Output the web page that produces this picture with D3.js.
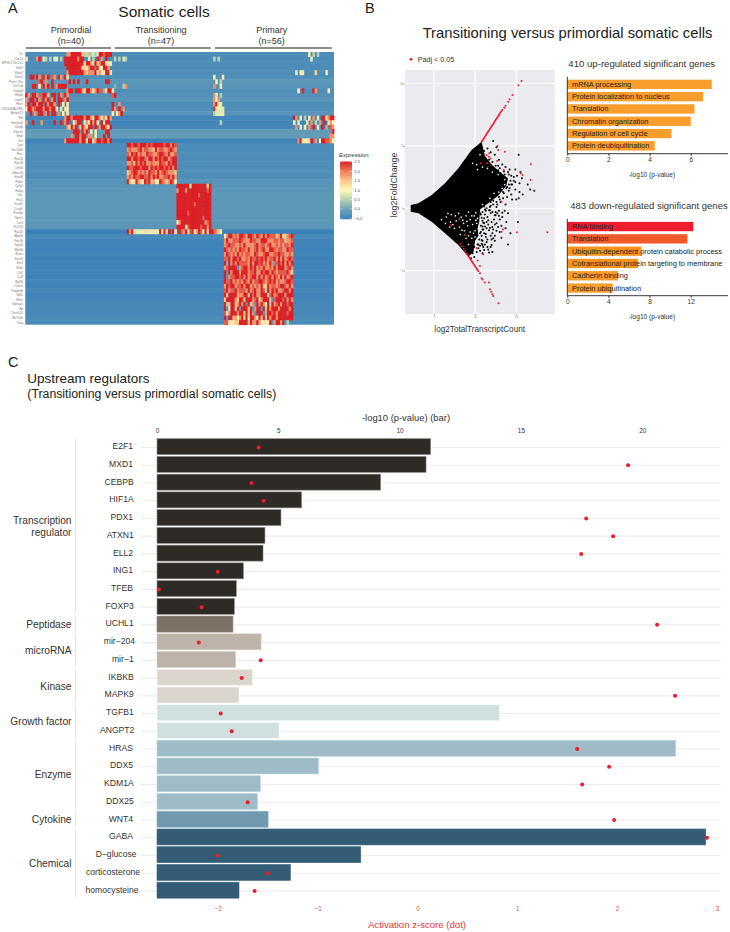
<!DOCTYPE html>
<html><head><meta charset="utf-8">
<script src="https://cdnjs.cloudflare.com/ajax/libs/d3/7.8.5/d3.min.js"></script>
<style>html,body{margin:0;padding:0;background:#fff}svg{display:block}text{font-family:"Liberation Sans",Arial,sans-serif}</style>
</head><body><svg id="c" width="730" height="932"></svg>
<script>
// ---------- Panel A ----------
const heatGroups=[{name:"Primordial",n:40},{name:"Transitioning",n:47},{name:"Primary",n:56}];
const heatGenes=["Ytc","Cdc14","MPV6-176c1/c1","Dlef1","Wwp2","Sass3","Pum1 (9)x","Gin Ddi","Golga3","Hmdn","Lonrf1","Plars","2410040A07Rik","Arhgef17","Rfk","Hacyad1","Cirebp","Klea1tr","Egin","Gct","Dgrt","Sec24d2","Peru","Rps16","Rps2b","Dnel3","Nbea7b","Hspa8","Prdx1","Cyfa2","Ratby","Utrc","Hist1","Sca81","Ccnb1","Per4tlo","Npm1","Tnc3","Pc1l13","Rps10","Rbp1b","Kmt2h","Syne2","Mpr9b","Ralus","Serin1","Enr3","Exd5","Cd7","Ccl3","Rpl36","Celsr1","Tmem4b","Sfbl1","Mthu","Gprrap1","Art","Chst4r10","Mir7k1b","Dap"];
const heatBase=[-.3,-.3,-.3,-.3,-.3,-.28,-.15,-.2,-.28,-.25,-.18,-.3,-.28,-.18,-.42,-.42,-.38,-.08,-.08,-.45,-.32,-.32,-.28,-.3,-.28,-.3,-.28,-.3,-.22,-.18,-.16,-.14,-.16,-.14,-.16,-.14,-.16,-.14,-.16,-.5,-.36,-.42,-.44,-.46,-.42,-.46,-.44,-.44,-.44,-.46,-.42,-.44,-.38,-.44,-.4,-.36,-.38,-.38,-.32,-.34];
// [row, first column, cell digits 0..9 spanning -0.5..2.5; "." keeps the row's base value]
const heatSegments=[
[0,19,"779999963633434998999"],
[0,131,"5.3.3"],
[1,0,"5....79.43.3.44.3.999999799..4.3.9.7.9.."],[1,41,"3.3.43"],[1,87,"3.3"],[1,132,"4"],
[2,18,"9999999995997596799554"],
[3,19,"99999996647998954997"],
[4,19,"799999997677795754995"],[4,125,"4.55.....6....4"],
[5,0,"..99.97.979.87.97.95"],[5,87,"5...5"],
[6,0,"......89.7..9.......9.9.9...9........99."],[6,87,".5.3"],
[7,0,"...99.5.979.9.79999."],[7,41,"2...37"],[7,87,"7..5"],
[8,19,"799.999759975798.75994"],[8,126,"5.9....97.....5"],
[9,0,"97.997.8996.99.97.97"],[9,40,"89"],[9,87,"75.3"],
[10,0,"7.99.97.979.79.99.79"],[10,87,"757"],
[11,0,"79.99799.97997.9.5.5"],[11,40,"9..7"],[11,87,"7945"],
[12,0,"599789997997995.4.55"],[12,40,"97.9.7"],[12,87,"95444"],
[13,0,"..9.7.99.79.99.7.5.5"],[13,40,"5.579"],[13,87,"34444"],
[14,18,"7997999997997499747597"],[14,124,"97.5.3.5.7.4.9957997"],
[15,0,"7..9...7.....9..9.79..5799.4759795.9599."],[15,90,"3"],[15,124,"5.4...4.7.3.7.9.475"],
[16,19,"75979.697599.9.799759"],[16,125,"7.4.5.7.9.4.9.7.875"],
[17,20,"..999.979.4.4....99."],[17,139,"...9"],
[18,20,".7.99799.77.4...9.9."],[18,141,"77"],
[19,18,"7999999799599479989979"],[19,124,"..7954559.7.5998875"],
// block: transitioning, first group
[20,47,"99899899989899999899798"],[21,47,"78777897887769788778987"],[22,47,"87989787798877899879778"],
[23,47,"99799899879979898997899"],[24,47,"77869798977877798879899"],[25,47,"98899989997989899898979"],
[26,47,"67899787879887978987776"],[27,47,"78798899889798977889797"],[28,47,"96459765989675498767985"],
// block: transitioning, second group
[29,70,"9999995999999959"],[30,70,"7999799999999989"],[31,70,"9999999999899999"],[32,70,"9999999999999999"],
[33,70,"9999999989999999"],[34,70,"9999999999999999"],[35,70,"9999989999999999"],[36,70,"9999999999998999"],
[37,70,"5799999999999789"],[38,70,"9999589999989979"],
[39,47,"97954455445544595959.95.98795895798594998765"],
// block: primary
[40,92,"47997879987998798797988867956789"],
[41,92,"79778889877798877999777887886778"],
[42,92,"78988778797777897887897787878879"],
[43,92,"98787879887977897897799878877988"],
[44,92,"79878797878877987789977889887787"],
[45,92,"88979989778798898989788979797898"],
[46,92,"92979798888797998978797189897979"],
[47,92,"78999917899798978797787979997897"],
[48,92,"91979997999788977989979878888976"],
[49,92,"91788998979789979797897987979789"],
[50,92,"98897878798797889987898978778998"],
[51,92,"79899788979978787966978878998797"],
[52,92,"89788978887978977983979897789979"],
[53,92,"96999977799398977999389789997999"],
[54,92,"69999769969997896799931899989797"],
[55,92,"93699679791967197974939789799899"],
[56,92,"91499691999691799196979997999979"],
[57,92,"84799979969697199917998979999899"],
[58,92,"91996757969599759693979979999999"],
[59,92,"885556699996977975555917997913"]
];
const heatLegend=[2.5,2.0,1.5,1.0,0.5,0.0,-0.5];
// ---------- Panel B scatter ----------
const maXTicks=[5,10,15];
const maYTicks=[10,5,0,-5];
const cloudOutline=[[2.17,.27],[3.1,.4],[4.72,1.07],[6.34,2],[7.96,3.2],[9.57,4.67],[10.79,5.34],[11.2,4.2],[12.0,3.5],[13.0,2.9],[14.0,2.4],[13.8,1.8],[12.8,1.0],[11.6,.4],[10.6,-.1],[10.5,-1.1],[10.3,-1.6],[10.4,-2.2],[10.0,-2.6],[9.8,-3.5],[9.17,-3.87],[7.96,-2.94],[6.34,-2],[4.72,-1.07],[3.1,-.4],[2.17,-.27]];
const cloudGaps=[[6.5,-.7],[7.1,-.5],[7.6,-.6],[7,-1.1],[6.4,-1.2],[7.7,-1],[8.3,-.7],[8.9,-.6],[9.4,-.9],[9.9,-.6],[10.3,-.8],[8.6,-1.2],[8.1,-1.5],[7.5,-1.6],[9.1,-1.4],[9.7,-1.3],[10.2,-1.2],[8.7,-1.8],[9.4,-1.9],[10,-1.8],[8.2,-2.1],[8.9,-2.4],[9.6,-2.4],[9.2,-2.9],[10,-2.3],[6.7,-.4],[8,-.4],[9.2,-.3],[10.1,-.35],[11.3,.1],[10.9,.3],[9.7,3.6],[10.2,3.5],[10.6,4.3],[10.3,3.1],[10.9,3.3],[11.5,3.2],[12.1,2.9],[12.8,2.7],[13.6,2.3],[13.3,1.6],[12.9,1.3],[13.6,1.9],[12.3,1.2],[11.8,.8],[5.9,-.9],[6.9,-1.5],[7.3,-1.3],[8.5,-.95],[9,-1.05],[9.6,-.6],[10.1,-.95],[8.4,-1.75],[9.2,-2.2],[9.8,-2.0]];
const blackX=[12.2,12.6,15.3,11.9,11.5,11.7,12.4,12.9,13.3,13.7,12.8,14.2,14.9,15.1,15.5,15.7,14.7,14.9,15.4,14.5,14.2,14.9,15.4,16.4,16.7,17.2,15.8,15.3,14.5,13.9,13.5,13.1,13.7,12.6,12.2,11.9,15,15.2,14.3,14,13.2,12.1,11.7,10.9,10.4,9.9,9.5,12.1,12.5,12.7,13.3,11.9,11.7,11.1,10.9,11.4,10.7,12.1,11.1,10.5,9.7,13,12.6,12.3,11.5,11.2,10.9,11.6,11,10.8,11.3,10.3,10.6,11,11.5,9.9,13.7,12.9,12,11.9,10.2,12.4,11.2,11.8,12.4,12.2,11.4,11.1,10.9,10.7,12.7,13.2,13.9,14.4];
const blackY=[5.4,4.9,4.3,4.5,4.8,3.9,4.3,3.9,3.5,3.3,3.4,3.1,3.1,2.6,2.9,2.4,2.5,2.1,2,1.9,1.6,1.5,1.3,1.9,1.5,1.4,1.1,.8,.7,.9,1.2,.5,.3,.1,.6,.2,.7,-1.1,-2,-2.9,-2.35,-3.5,-3.55,-3.6,-3.2,-3.9,-4,-1.5,-.3,-.4,-.7,-.4,-1.75,-2,-2.6,-2.7,-1.9,-2,-1.2,-2.5,-3.6,-.9,-1.2,-.9,-.7,-.5,-1,-1.3,-1.7,-2.2,-2.3,-2.9,-3,-3.1,-3.1,-3.1,-1.6,-.2,-2.5,-3.1,-3.5,-2.6,-.1,-.15,-.55,-1.7,-1.1,-.8,-1.45,-.5,.3,2.1,1.7,1.1];
const blackMore=[[11.9,3.3],[12.3,3.1],[12.8,3.05],[13.1,2.8],[13.6,2.7],[14,2.9],[14.4,2.6],[14.7,2.2],[14.4,1.9],[14.1,1.4],[13.8,1.6],[13.4,.8],[13,.7],[12.6,.5],[12.2,.3],[11.8,.1],[11.4,0],[11.1,.15],[10.8,.2],[10.9,-.3],[11.3,-.2],[11.7,-.15],[12.1,-.3],[12.5,-.55],[12.9,-.6],[13.3,-.35],[13.6,-.2],[14,-.4],[13.8,-1.1],[13.2,-1.4],[12.8,-1.5],[12.4,-1.3],[12,-1.1],[11.6,-.95],[11.2,-1.45],[11,-1.15],[10.8,-.75],[11.4,-1.6],[11.8,-1.55],[12.2,-2.4],[12.6,-1.8],[13,-1.9],[12.4,-2.2],[11.9,-2.2],[11.3,-2.05],[10.8,-2.55],[10.9,-2.95],[11.5,-2.5],[12,-2.95],[11.6,-3.3],[11.1,-3.35],[10.6,-3.4],[10.8,-2.85],[11.2,-2.9],[10.7,-1.4],[10.6,-.4],[10.9,-1.7],[10.6,-2.0],[10.4,-2.9],[10.7,3.9],[11.1,4.6],[11.3,3.7],[11.6,3.55],[12.1,3.7],[12.5,3.4],[13,3.2],[13.5,2.95],[14.1,2.7],[14.3,2.2],[14.1,1.9],[13.4,1.3],[12.9,.9],[12.2,.8],[11.9,.5]];
const redPairs=[[10.8,5.34],[10.9,5.44],[11,5.54],[11.1,5.64],[11.2,5.74],[11.3,5.85],[11.4,5.95],[11.5,6.05],[11.6,6.15],[11.7,6.25],[11.8,6.36],[11.9,6.46],[12,6.56],[12.1,6.66],[12.2,6.76],[12.3,6.86],[12.4,6.97],[12.5,7.07],[12.6,7.17],[12.7,7.27],[12.8,7.37],[12.9,7.48],[13,7.58],[13.1,7.68],[13.2,7.78],[13.3,7.88],[13.54,8.06],[13.7,8.22],[14.03,8.54],[14.19,8.73],[14.55,9.08],[15.28,9.85],[15.65,10.2],
[12.73,4.99],[13.62,4.54],[12.81,4.67],[11.72,4.41],[11.4,4.27],[11.68,4.14],[11.88,4],[10.7,3.6],[11.48,3.6],[12.69,3.79],[16.78,3.52],[15.57,2.8],[15.77,2.67],[16.74,2.27],[13.5,3.07],[13.22,.53],[13.38,-1.68],[13.22,-1.87],[15.08,-1.92],[18.8,-1.92],[8.08,-.85],[7.06,-1.34],[8.77,-2.14],[10.18,-3.2],[10.99,-3.68],[10.3,-4.19],[10.59,-4.62],
[8.2,-2.85],[8.4,-3.05],[8.6,-3.25],[8.8,-3.45],[9,-3.65],[9.1,-3.75],[9.2,-3.85],[9.3,-3.95],[9.4,-4.05],[9.5,-4.15],[9.6,-4.25],[9.7,-4.35],[9.8,-4.45],[9.9,-4.55],[10,-4.65],[10.1,-4.75],[10.2,-4.85],[10.3,-4.95],[10.4,-5.05],[10.6,-5.2],[10.79,-5.6],[10.9,-5.7],[11.19,-5.95],[11.68,-5.95],[11.8,-6.49],[11.95,-6.68],[12.1,-6.88],[12.2,-7.02],[12.85,-7.61]];
// ---------- Panel B GO bars ----------
const upTerms=["mRNA processing","Protein localization to nucleus","Translation","Chromatin organization","Regulation of cell cycle","Protein deubiquitination"];
const upValues=[7.02,6.6,6.18,6.0,5.06,4.25];
const upColors=["#f99d2c","#f99d2c","#f99d2c","#f99d2c","#f99d2c","#f99d2c"];
const downTerms=["RNA binding","Translation","Ubiquitin-dependent protein catabolic process","Cotranslational protein targeting to membrane","Cadherin binding","Protein ubiquitination"];
const downValues=[12.26,11.68,7.2,6.88,4.93,4.41];
const downColors=["#ed1c2e","#f15a29","#f7941d","#f7941d","#f99d2c","#f99d2c"];
// ---------- Panel C ----------
const regGenes=["E2F1","MXD1","CEBPB","HIF1A","PDX1","ATXN1","ELL2","ING1","TFEB","FOXP3","UCHL1","mir\u2212204","mir\u22121","IKBKB","MAPK9","TGFB1","ANGPT2","HRAS","DDX5","KDM1A","DDX25","WNT4","GABA","D\u2212glucose","corticosterone","homocysteine"];
const regPvals=[11.28,11.09,9.22,5.96,5.11,4.45,4.37,3.56,3.27,3.19,3.13,4.29,3.24,3.94,3.38,14.12,5.03,21.38,6.66,4.26,4.14,4.58,22.62,8.4,5.5,3.38];
const regZ=[-1.59,2.11,-1.66,-1.54,1.69,1.96,1.64,-2,-2.59,-2.16,2.4,-2.19,-1.57,-1.76,2.58,-1.97,-1.86,1.6,1.92,1.65,-1.7,1.97,2.9,-2,-1.5,-1.63];
const regClassNames=["Transcription regulator","Peptidase","microRNA","Kinase","Growth factor","Enzyme","Cytokine","Chemical"];
const regClassCounts=[10,1,2,2,2,4,1,4];
const regClassColors=["#2e2a26","#7d7266","#bdb3a9","#dcd5ce","#cfe0df","#9fbbc6","#7099b0","#355c75"];

const svg=d3.select("#c");
const txt=(x,y,s,size,o={})=>svg.append("text").attr("x",x).attr("y",y).attr("font-size",size).attr("fill",o.fill||"#222").attr("text-anchor",o.anchor||"start").attr("transform",o.rot?`rotate(${o.rot} ${x} ${y})`:null).text(s);
const defs=svg.append("defs");
defs.append("filter").attr("id","soft").attr("x","-2%").attr("y","-2%").attr("width","104%").attr("height","104%").append("feGaussianBlur").attr("stdDeviation",.35);

// ---- A heatmap
const nCols=d3.sum(heatGroups,d=>d.n);
const hx=d3.scaleLinear().domain([0,nCols]).range([25.3,334]);
const hy=d3.scaleBand().domain(d3.range(heatGenes.length)).range([52,324.7]);
const hc=d3.scaleLinear().domain([-.5,0,.5,1,1.5,2,2.5]).range(["#3a80ba","#6aa1b6","#b2d1b0","#fdfabb","#f9c88a","#ef7a5b","#dd2027"]);
const hg=svg.append("g").attr("filter","url(#soft)");
hg.selectAll("rect.b").data(heatBase).join("rect").attr("x",hx(0)).attr("width",hx(nCols)-hx(0)).attr("y",(d,i)=>hy(i)).attr("height",(d,i)=>hy.bandwidth()+(i<heatBase.length-1?.5:0)).attr("fill",d=>hc(d));
const cells=[];
heatSegments.forEach(([r,c,s])=>{[...s].forEach((ch,i)=>{if(ch!=="."&&c+i<nCols)cells.push({r,c:c+i,v:-.5+(+ch)*3/9});});});
hg.selectAll("rect.c").data(cells).join("rect").attr("x",d=>hx(d.c)).attr("width",hx(1)-hx(0)+.4).attr("y",d=>hy(d.r)).attr("height",hy.bandwidth()+.4).attr("fill",d=>hc(d.v));
svg.append("g").selectAll("text").data(heatGenes).join("text").attr("x",23).attr("y",(d,i)=>hy(i)+hy.bandwidth()/2+1.1).attr("text-anchor","end").attr("font-size",3).attr("fill","#777").text(d=>d);
txt(8,13,"A",14.5,{fill:"#222"});
txt(164,17,"Somatic cells",15.5,{anchor:"middle"});
const brX=[[26,111],[114.7,210.7],[215,331.7]];
heatGroups.forEach((g,i)=>{
  const mid=[71,161,271.7][i];
  txt(mid,33,g.name,9,{anchor:"middle",fill:"#333"});
  txt(mid,44,`(n=${g.n})`,9,{anchor:"middle",fill:"#333"});
  svg.append("line").attr("x1",brX[i][0]).attr("x2",brX[i][1]).attr("y1",48).attr("y2",48).attr("stroke","#666").attr("stroke-width",1.5);
});
// colour bar
const cbY=d3.scaleLinear().domain([2.5,-.5]).range([162,218.3]);
const grad=defs.append("linearGradient").attr("id","cb").attr("x1",0).attr("x2",0).attr("y1",1).attr("y2",0);
hc.domain().forEach((v,i,a)=>grad.append("stop").attr("offset",i/(a.length-1)).attr("stop-color",hc(v)));
svg.append("rect").attr("x",340).attr("y",cbY(2.5)-.5).attr("width",12).attr("height",cbY(-.5)-cbY(2.5)+1.5).attr("fill","url(#cb)");
txt(339,156.7,"Expression",6,{fill:"#333"});
heatLegend.forEach(v=>{
  svg.append("line").attr("x1",340).attr("x2",342.4).attr("y1",cbY(v)).attr("y2",cbY(v)).attr("stroke","#fff").attr("stroke-width",.4);
  svg.append("line").attr("x1",349.6).attr("x2",352).attr("y1",cbY(v)).attr("y2",cbY(v)).attr("stroke","#fff").attr("stroke-width",.4);
  txt(354.3,cbY(v)+1.4,d3.format(".1f")(v).replace("-","\u2212"),4,{fill:"#444"});
});

// ---- B MA plot
txt(365,13,"B",14.5);
txt(567.5,38,"Transitioning versus primordial somatic cells",14.8,{anchor:"middle"});
const px=d3.scaleLinear().domain([5,10]).range([434,475.1]);
const py=d3.scaleLinear().domain([0,5]).range([208.3,145.9]);
const pL=405,pR=555,pT=70,pB=314;
svg.append("rect").attr("x",pL).attr("y",pT).attr("width",pR-pL).attr("height",pB-pT).attr("fill","#ebebef");
const panelGrid=svg.append("g");
maXTicks.forEach(v=>panelGrid.append("line").attr("x1",px(v)).attr("x2",px(v)).attr("y1",pT).attr("y2",pB).attr("stroke","#fff").attr("stroke-width",1.2));
maYTicks.forEach(v=>panelGrid.append("line").attr("x1",pL).attr("x2",pR).attr("y1",py(v)).attr("y2",py(v)).attr("stroke","#fff").attr("stroke-width",1.2));
const axX=svg.append("g").attr("transform",`translate(0,${pB})`).call(d3.axisBottom(px).tickValues(maXTicks).tickSize(1).tickPadding(.5).tickFormat(d3.format("d")));
axX.select(".domain").remove();axX.selectAll("text").attr("font-size",3).attr("fill","#777");axX.selectAll("line").attr("stroke","#999");
const axY=svg.append("g").attr("transform",`translate(${pL},0)`).call(d3.axisLeft(py).tickValues(maYTicks).tickSize(1).tickPadding(.5).tickFormat(d=>String(d).replace("-","\u2212")));
axY.select(".domain").remove();axY.selectAll("text").attr("font-size",3).attr("fill","#777");axY.selectAll("line").attr("stroke","#999");
svg.append("path").attr("d",d3.line().x(d=>px(d[0])).y(d=>py(d[1])).curve(d3.curveLinearClosed)(cloudOutline)).attr("fill","#000");
svg.append("g").selectAll("circle").data(cloudGaps).join("circle").attr("cx",d=>px(d[0])).attr("cy",d=>py(d[1])).attr("r",.85).attr("fill","#ebebef");
svg.append("g").selectAll("circle").data(blackX).join("circle").attr("cx",d=>px(d)).attr("cy",(d,i)=>py(blackY[i])).attr("r",1).attr("fill","#000");
svg.append("g").selectAll("circle").data(blackMore).join("circle").attr("cx",d=>px(d[0])).attr("cy",d=>py(d[1])).attr("r",1).attr("fill","#000");
svg.append("g").selectAll("circle").data(redPairs).join("circle").attr("cx",d=>px(d[0])).attr("cy",d=>py(d[1])).attr("r",1).attr("fill","#ed1c2e");
svg.append("circle").attr("cx",411).attr("cy",59.3).attr("r",1.4).attr("fill","#ed1c2e");
txt(417.7,61.8,"Padj < 0.05",7.2,{fill:"#333"});
txt(479.7,331.7,"log2TotalTranscriptCount",8.2,{anchor:"middle",fill:"#333"});
txt(397,185,"log2FoldChange",8.8,{anchor:"middle",rot:-90,fill:"#333"});

// ---- B GO bars
function goChart(title,terms,vals,cols,yTop,axisY,domMax,ticks,titleX,titleSize){
  const x=d3.scaleLinear().domain([0,domMax]).range([567.3,728]);
  const y=d3.scaleBand().domain(terms).range([yTop,yTop+12.3*6]).paddingInner(.24).paddingOuter(.12);
  txt(titleX,yTop-11.5,title,titleSize,{anchor:"middle",fill:"#333"});
  const g=svg.append("g");
  g.selectAll("rect").data(terms).join("rect").attr("x",x(0)).attr("y",d=>y(d)).attr("width",(d,i)=>x(vals[i])-x(0)).attr("height",y.bandwidth()).attr("fill",(d,i)=>cols[i]);
  g.selectAll("text").data(terms).join("text").attr("x",572).attr("y",d=>y(d)+y.bandwidth()/2+2.5).attr("font-size",7.4).attr("fill","#222").text(d=>d);
  const a=svg.append("g").attr("transform",`translate(0,${axisY})`).call(d3.axisBottom(x).tickValues(ticks).tickSize(2).tickPadding(2));
  a.selectAll("text").attr("font-size",6.6).attr("fill","#333");
  a.select(".domain").attr("d",`M567.3,0H728`).attr("stroke","#222").attr("stroke-width",.9);
  a.selectAll("line").attr("stroke","#222");
  svg.append("line").attr("x1",567.3).attr("x2",567.3).attr("y1",yTop-1.5).attr("y2",axisY).attr("stroke","#222").attr("stroke-width",.9);
  txt(652,axisY+23,"-log10 (p-value)",6.6,{anchor:"middle",fill:"#333"});
}
goChart("410 up-regulated significant genes",upTerms,upValues,upColors,78.2,153.7,7.81,[0,2,4,6],641.7,9.6);
goChart("483 down-regulated significant genes",downTerms,downValues,downColors,220.4,295.7,15.63,[0,4,8,12],649,9.5);

// ---- C
txt(8,367,"C",14.5);
txt(27.3,383,"Upstream regulators",13.5);
txt(27.3,398,"(Transitioning versus primordial somatic cells)",12.3,{fill:"#222"});
const cx=d3.scaleLinear().domain([0,5]).range([157,278.3]);
const zx=d3.scaleLinear().domain([-2,3]).range([217.7,717]);
const cy=d3.scaleBand().domain(regGenes).range([438.7-.9,438.7-.9+17.74*26]).paddingInner(.1).paddingOuter(.05);
const colorOf=[];regClassCounts.forEach((n,i)=>d3.range(n).forEach(()=>colorOf.push(regClassColors[i])));
const ctrY=d=>cy(d)+cy.bandwidth()/2;
svg.append("g").selectAll("line").data(regGenes).join("line").attr("x1",141).attr("x2",720.7).attr("y1",d=>ctrY(d)+.8).attr("y2",d=>ctrY(d)+.8).attr("stroke","#ececec").attr("stroke-width",1.1);
svg.append("g").selectAll("rect").data(regGenes).join("rect").attr("x",cx(0)).attr("y",d=>cy(d)).attr("height",cy.bandwidth()).attr("width",(d,i)=>cx(regPvals[i])-cx(0)).attr("fill",(d,i)=>colorOf[i]).attr("stroke",(d,i)=>i<10?"#8d8a86":d3.color(colorOf[i]).brighter(.4)).attr("stroke-width",.6);
svg.append("g").selectAll("text").data(regGenes).join("text").attr("x",d=>133+(d.length-4)*.7).attr("y",d=>ctrY(d)+2.4).attr("text-anchor","end").attr("font-size",8.6).attr("fill","#333").text(d=>d);
svg.append("g").selectAll("circle").data(regGenes).join("circle").attr("cx",(d,i)=>zx(regZ[i])).attr("cy",d=>ctrY(d)+.8).attr("r",2).attr("fill","#ed1c2e");
let start=0;
regClassNames.forEach((name,i)=>{
  const n=regClassCounts[i];
  const y0=cy(regGenes[start])-.5,y1=cy(regGenes[start+n-1])+cy.bandwidth()+.5;
  svg.append("line").attr("x1",75.6).attr("x2",75.6).attr("y1",y0+1).attr("y2",y1-1.5).attr("stroke","#d9d9d9").attr("stroke-width",.8);
  const mid=(y0+y1)/2;
  if(name==="Transcription regulator"){
    txt(71.5,mid-3,"Transcription",10.2,{anchor:"end",fill:"#333"});
    txt(71.5,mid+9.5,"regulator",10.2,{anchor:"end",fill:"#333"});
  } else txt(71.5,mid+3.5,name,10.2,{anchor:"end",fill:"#333"});
  start+=n;
});
const topA=svg.append("g").attr("transform","translate(0,433.3)").call(d3.axisTop(cx).tickValues([0,5,10,15,20]).tickSize(0).tickPadding(0).tickFormat(d3.format("d")));
topA.select(".domain").remove();topA.selectAll("text").attr("font-size",6.4).attr("fill","#333");
txt(406,420.7,"-log10 (p-value) (bar)",9.4,{anchor:"middle",fill:"#333"});
const botA=svg.append("g").attr("transform","translate(0,906)").call(d3.axisBottom(zx).tickValues([-2,-1,0,1,2,3]).tickSize(0).tickPadding(0).tickFormat(d=>String(d).replace("-","\u2212")));
botA.select(".domain").remove();botA.selectAll("text").attr("font-size",6.4).attr("fill","#ef4b4f");
txt(417,928,"Activation z-score (dot)",9.6,{anchor:"middle",fill:"#e8343a"});
</script></body></html>
